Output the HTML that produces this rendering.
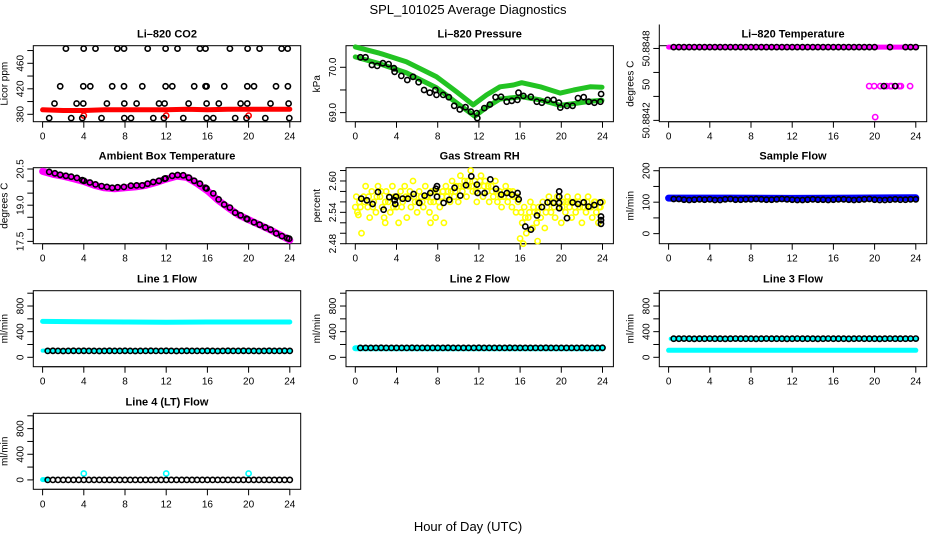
<!DOCTYPE html>
<html><head><meta charset="utf-8"><title>SPL_101025 Average Diagnostics</title>
<style>
html,body{margin:0;padding:0;background:#fff;}
svg{display:block;font-family:"Liberation Sans",Arial,sans-serif;}
</style></head>
<body>
<svg id="chart" width="936" height="540" viewBox="0 0 936 540" xmlns="http://www.w3.org/2000/svg">
<rect x="0" y="0" width="936" height="540" fill="#fff"/>
<text x="468" y="14" text-anchor="middle" font-size="13">SPL_101025  Average Diagnostics</text>
<text x="468" y="531" text-anchor="middle" font-size="13">Hour of Day (UTC)</text>
</svg>
<script>
// ---------- data ----------
const xTicks = [0,4,8,12,16,20,24];
const halfHours = [0.5,1,1.5,2,2.5,3,3.5,4,4.5,5,5.5,6,6.5,7,7.5,8,8.5,9,9.5,10,10.5,11,11.5,12,12.5,13,13.5,14,14.5,15,15.5,16,16.5,17,17.5,18,18.5,19,19.5,20,20.5,21,21.5,22,22.5,23,23.5,24];

// CO2
const co2Band = [[0,387],[2,386],[4,386],[6,387],[8,387],[10,387],[12,387],[14,388],[16,387],[18,388],[20,388],[22,388],[24,388]];
const co2RedOut = [[4,378],[12,378],[20,378]];
const co2Black = [[2.26,483],[3.99,483],[5.14,483],[7.25,483],[7.9,483],[10.2,483],[11.94,483],[13.1,483],[15.27,483],[15.82,483],[18.18,483],[19.9,483],[21.07,483],[23.2,483],[23.8,483],
[1.71,424],[3.95,424],[4.63,424],[6.76,424],[7.9,424],[9.68,424],[11.94,424],[12.59,424],[14.72,424],[15.82,424],[15.92,424],[17.64,424],[19.87,424],[20.52,424],[22.66,424],[23.82,424],
[1.16,397],[3.3,397],[3.95,397],[6.24,397],[7.93,397],[9.13,397],[11.3,397],[11.84,397],[14.17,397],[15.92,397],[17.11,397],[19.22,397],[19.87,397],[22.13,397],[23.88,397],
[0.64,374],[2.78,374],[3.85,374],[5.72,374],[7.93,374],[8.58,374],[10.75,374],[11.78,374],[13.66,374],[15.92,374],[16.57,374],[18.7,374],[19.8,374],[21.62,374],[23.95,374]];
const co2Ticks = [380,400,420,440,460,480];
const co2Labels = ['380','','420','','460',''];

// Pressure
const presUpper = [[0,70.45],[2.35,70.31],[4.95,70.12],[7.88,69.79],[9.83,69.46],[11.45,69.17],[12.75,69.39],[14.05,69.57],[15.35,69.61],[16.16,69.66],[17.95,69.57],[19.9,69.43],[21.2,69.5],[22.8,69.57],[23.95,69.56]];
const presLower = [[0,70.23],[2.35,70.08],[4.95,69.88],[7.88,69.55],[9.83,69.22],[11.6,68.92],[12.75,69.12],[14.05,69.3],[16.16,69.35],[17.95,69.28],[19.9,69.16],[21.2,69.2],[22.8,69.25],[23.95,69.27]];
const presBlack = [[0.5,70.22],[0.99,70.22],[1.61,70.05],[2.13,70.03],[2.68,70.09],[3.23,70.07],[3.75,69.98],[3.82,69.9],[4.47,69.81],[5.05,69.72],[5.6,69.79],[6.15,69.67],[6.68,69.5],[7.23,69.44],[7.78,69.5],[7.88,69.39],[8.53,69.39],[9.08,69.34],[9.6,69.15],[10.15,69.07],[10.7,69.12],[11.22,69.02],[11.78,68.99],[11.84,68.88],[12.52,69.1],[13.07,69.18],[13.62,69.34],[14.15,69.35],[14.7,69.24],[15.19,69.26],[15.74,69.28],[15.84,69.44],[16.32,69.37],[17.04,69.35],[17.62,69.24],[18.11,69.22],[18.67,69.28],[19.25,69.28],[19.77,69.22],[19.9,69.11],[20.55,69.15],[21.1,69.15],[21.62,69.32],[22.17,69.34],[22.66,69.24],[23.21,69.22],[23.8,69.24],[23.86,69.41]];
const presTicks = [69.0,69.5,70.0];
const presLabels = ['69.0','','70.0'];

// Li-820 Temperature
const ltBand = [[0,50.884811],[24,50.884811]];
const ltMagentaLow = [[19.48,50.884486],[19.96,50.884486],[20.55,50.884486],[21.16,50.884486],[21.51,50.884486],[21.65,50.884486],[22.39,50.884486],[22.55,50.884486],[23.45,50.884486],[20.06,50.884227]];
const ltBlackMain = [50.884811,50.884811,50.884811,50.884811,50.884811,50.884811,50.884811,50.884811,50.884811,50.884811,50.884811,50.884811,50.884811,50.884811,50.884811,50.884811,50.884811,50.884811,50.884811,50.884811,50.884811,50.884811,50.884811,50.884811,50.884811,50.884811,50.884811,50.884811,50.884811,50.884811,50.884811,50.884811,50.884811,50.884811,50.884811,50.884811,50.884811,50.884811,50.884811,50.884811,null,null,50.884811,null,null,50.884811,50.884811,50.884811];
const ltBlackLow = [[20.9,50.884486],[22.0,50.884486]];
const ltTicks = [50.8842,50.8844,50.8845,50.8846,50.8848,50.8850];
const ltLabels = ['50.8842','','50','','50.8848',''];

// Ambient box temperature
const ambBand = [[0,20.4],[1,20.28],[2,20.2],[3,20.1],[4,19.98],[5,19.83],[6,19.72],[7,19.68],[8,19.72],[9,19.76],[10,19.82],[11,19.94],[12,20.08],[13,20.2],[14,20.15],[15,19.9],[16,19.6],[17,19.22],[18,18.9],[19,18.6],[20,18.4],[21,18.2],[22,18.0],[23,17.78],[24,17.55]];
const ambBlack = [[0.64,20.38],[1.19,20.32],[1.71,20.26],[2.26,20.22],[2.78,20.18],[3.33,20.13],[3.85,20.04],[4.01,20.01],[4.59,19.94],[5.14,19.86],[5.73,19.79],[6.24,19.76],[6.76,19.72],[7.28,19.74],[7.89,19.76],[8.57,19.81],[9.13,19.82],[9.67,19.82],[10.19,19.89],[10.74,19.96],[11.29,20.01],[11.84,20.1],[11.94,20.11],[12.58,20.22],[13.11,20.25],[13.65,20.24],[14.2,20.14],[14.72,20.01],[15.27,19.89],[15.83,19.72],[15.92,19.69],[16.57,19.49],[17.09,19.24],[17.63,19.03],[18.18,18.9],[18.7,18.69],[19.22,18.58],[19.81,18.44],[19.87,18.42],[20.52,18.29],[21.07,18.19],[21.62,18.08],[22.14,17.99],[22.68,17.83],[23.23,17.72],[23.75,17.64],[23.94,17.61]];
const ambTicks = [17.5,18.0,18.5,19.0,19.5,20.0,20.5];
const ambLabels = ['17.5','','','19.0','','','20.5'];

// Gas stream RH
const rhYellow = [[0.0,2.55],[0.2,2.54],[0.4,2.56],[0.6,2.50],[0.8,2.57],[1.0,2.59],[1.2,2.55],[1.4,2.53],[1.6,2.58],[1.8,2.56],[2.0,2.54],[2.2,2.59],[2.4,2.57],[2.6,2.55],[2.8,2.53],[3.0,2.58],[3.2,2.56],[3.4,2.54],[3.6,2.59],[3.8,2.57],[4.0,2.55],[4.2,2.52],[4.4,2.58],[4.6,2.56],[4.8,2.59],[5.0,2.53],[5.2,2.57],[5.4,2.55],[5.6,2.60],[5.8,2.56],[6.0,2.54],[6.2,2.58],[6.4,2.57],[6.6,2.55],[6.8,2.59],[7.0,2.57],[7.2,2.54],[7.4,2.58],[7.6,2.56],[7.8,2.53],[8.0,2.58],[8.2,2.55],[8.4,2.57],[8.6,2.52],[8.8,2.59],[9.0,2.58],[9.2,2.56],[9.4,2.60],[9.6,2.57],[9.8,2.59],[10.0,2.56],[10.2,2.61],[10.4,2.58],[10.6,2.60],[10.8,2.57],[11.0,2.59],[11.2,2.62],[11.4,2.58],[11.6,2.60],[11.8,2.56],[12.0,2.59],[12.2,2.61],[12.4,2.57],[12.6,2.60],[12.8,2.58],[13.0,2.56],[13.2,2.59],[13.4,2.57],[13.6,2.60],[13.8,2.56],[14.0,2.58],[14.2,2.55],[14.4,2.57],[14.6,2.59],[14.8,2.56],[15.0,2.58],[15.2,2.55],[15.4,2.57],[15.6,2.54],[15.8,2.56],[16.0,2.49],[16.2,2.52],[16.4,2.55],[16.6,2.50],[16.8,2.53],[17.0,2.56],[17.2,2.51],[17.4,2.54],[17.6,2.52],[17.8,2.55],[18.0,2.53],[18.2,2.56],[18.4,2.51],[18.6,2.55],[18.8,2.57],[19.0,2.54],[19.2,2.56],[19.4,2.53],[19.6,2.57],[19.8,2.55],[20.0,2.52],[20.2,2.56],[20.4,2.54],[20.6,2.57],[20.8,2.55],[21.0,2.53],[21.2,2.56],[21.4,2.54],[21.6,2.57],[21.8,2.55],[22.0,2.52],[22.2,2.56],[22.4,2.54],[22.6,2.57],[22.8,2.55],[23.0,2.53],[23.2,2.56],[23.4,2.54],[23.6,2.52],[23.8,2.55],[24.0,2.56],
[0.1,2.57],[0.5,2.55],[0.9,2.56],[1.3,2.57],[1.7,2.55],[2.1,2.57],[2.5,2.58],[2.9,2.56],[3.3,2.57],[3.7,2.55],[4.1,2.57],[4.5,2.55],[4.9,2.57],[5.3,2.58],[5.7,2.57],[6.1,2.56],[6.5,2.56],[6.9,2.57],[7.3,2.56],[7.7,2.58],[8.1,2.56],[8.5,2.58],[8.9,2.57],[9.3,2.58],[9.7,2.58],[10.1,2.59],[10.5,2.59],[10.9,2.60],[11.3,2.59],[11.7,2.58],[12.1,2.60],[12.5,2.59],[12.9,2.59],[13.3,2.58],[13.7,2.58],[14.1,2.57],[14.5,2.58],[14.9,2.57],[15.3,2.58],[15.7,2.57],[16.1,2.54],[16.5,2.53],[16.9,2.54],[17.3,2.55],[17.7,2.54],[18.1,2.55],[18.5,2.54],[18.9,2.56],[19.3,2.55],[19.7,2.56],[20.1,2.55],[20.5,2.56],[20.9,2.56],[21.3,2.55],[21.7,2.56],[22.1,2.55],[22.5,2.56],[22.9,2.55],[23.3,2.56],[23.7,2.55],[16.3,2.48],[17.7,2.485],[7.3,2.52],[2.9,2.52],[0.3,2.535]];
const rhBlack = [[0.58,2.566],[1.13,2.563],[1.68,2.556],[2.2,2.579],[2.75,2.545],[3.3,2.569],[3.82,2.563],[3.88,2.556],[3.95,2.57],[4.6,2.566],[5.11,2.566],[5.66,2.575],[6.21,2.558],[6.73,2.572],[7.28,2.577],[7.83,2.585],[7.93,2.59],[7.93,2.57],[8.57,2.558],[9.13,2.564],[9.64,2.587],[10.19,2.572],[10.75,2.592],[11.26,2.609],[11.81,2.593],[11.87,2.577],[12.55,2.577],[13.11,2.603],[13.66,2.585],[14.17,2.574],[14.72,2.577],[15.21,2.574],[15.76,2.577],[15.86,2.565],[16.5,2.513],[17.05,2.507],[17.64,2.534],[18.12,2.55],[18.67,2.559],[19.25,2.558],[19.8,2.58],[19.8,2.57],[19.8,2.558],[19.8,2.548],[20.55,2.529],[21.1,2.559],[21.62,2.556],[22.17,2.559],[22.65,2.551],[23.2,2.554],[23.79,2.559],[23.85,2.532],[23.85,2.525],[23.85,2.518]];
const rhTicks = [2.48,2.50,2.52,2.54,2.56,2.58,2.60,2.62];
const rhLabels = ['2.48','','','2.54','','','2.60',''];

// Sample flow
const sfBand = [[0,113],[6,113],[12,112],[18,113],[24,114]];
const sfBlack = [110,110,108,107,108,109,108,109,107,107,109,110,108,108,109,109,110,109,108,108,109,110,109,108,107,107,108,109,108,108,107,108,109,109,108,107,108,109,110,108,107,107,108,109,108,108,109,109];
const sfTicks = [0,50,100,150,200];
const sfLabels = ['0','','100','','200'];

// Line flows
const flowTicks = [0,200,400,600,800,1000];
const flowLabels = ['0','','400','','800',''];
const l1Upper = [[0,560],[4,555],[8,550],[12,548],[16,550],[20,550],[24,550]];
const l1Lower = [[0,105],[24,102]];
const l1Black = [100,101,100,99,100,101,100,101,100,100,99,100,101,100,100,101,100,99,100,100,101,100,100,101,100,99,100,101,100,100,100,101,100,99,100,101,100,100,101,100,100,99,100,101,100,100,101,100];
const l2Band = [[0,140],[24,140]];
const l2Black = [147,147,146,147,148,147,147,146,147,147,148,147,147,146,147,147,147,148,147,146,147,147,147,148,147,147,146,147,147,148,147,147,147,146,147,147,148,147,147,147,146,147,147,148,147,147,147,148];
const l3Upper = [[0.2,290],[24,286]];
const l3Lower = [[0,110],[24,110]];
const l3Black = [290,290,291,290,289,290,290,291,290,290,289,290,291,290,290,290,289,290,291,290,290,290,289,290,291,290,290,290,289,290,291,290,290,290,289,290,291,290,290,290,289,290,291,290,290,290,292,292];
const l4Band = [[0,5],[0.4,5]];
const l4Cyan = [[4,100],[12,100],[20,100]];
const l4Black = [0,0,0,0,0,0,0,0,0,0,0,0,0,0,0,0,0,0,0,0,0,0,0,0,0,0,0,0,0,0,0,0,0,0,0,0,0,0,0,0,0,0,0,0,0,0,0,0];

// ---------- drawing ----------
const NS = 'http://www.w3.org/2000/svg';
const svg = document.getElementById('chart');
const W = 267.4, H = 76;
const cols = [33.3, 346, 659.3];
const rows = [45.7, 167.7, 290.7, 413.3];

function mk(tag, attrs, parent){
  const e = document.createElementNS(NS, tag);
  for (const k in attrs) e.setAttribute(k, attrs[k]);
  (parent||svg).appendChild(e);
  return e;
}
function xp(p,h){ return p.l + 9.3 + h*10.3; }
function yp(p,v){ return p.t + H - (v-p.ymin)/(p.ymax-p.ymin)*H; }

function panel(name, title, ylab, col, row, ymin, ymax, ticks, labels){
  const p = {l:cols[col], t:rows[row], ymin, ymax};
  const g = mk('g', {});
  
  
  p.g = g;
  const tt = mk('text', {x:p.l+W/2, y:p.t-8, 'text-anchor':'middle', 'font-size':11, 'font-weight':'bold'}, g);
  tt.textContent = title;
  
  
  const yl = mk('text', {x:p.l-26, y:p.t+H/2, 'text-anchor':'middle', 'font-size':10, transform:`rotate(-90 ${p.l-26} ${p.t+H/2})`}, g);
  yl.textContent = ylab;
  
  
  const xa = mk('g', {}, g);
  
  
  const yb = p.t + H;
  mk('line', {x1:xp(p,xTicks[0]), x2:xp(p,xTicks[xTicks.length-1]), y1:yb, y2:yb, stroke:'#000'}, xa);
  xTicks.forEach(t=>{
    mk('line', {x1:xp(p,t), x2:xp(p,t), y1:yb, y2:yb+6, stroke:'#000'}, xa);
    const tx = mk('text', {x:xp(p,t), y:yb+18, 'text-anchor':'middle', 'font-size':10}, xa);
    tx.textContent = String(t);
  });
  const ya = mk('g', {}, g);
  
  
  mk('line', {x1:p.l, x2:p.l, y1:yp(p,ticks[0]), y2:yp(p,ticks[ticks.length-1]), stroke:'#000'}, ya);
  ticks.forEach((t,i)=>{
    const y = yp(p,t);
    if (y < p.t-0.5 || y > p.t+H+0.5) return;
    if (!(name === 'li820-temp' && t === 50.8845))
      mk('line', {x1:p.l-6, x2:p.l, y1:y, y2:y, stroke:'#000'}, ya);
    if (labels[i]) {
      const tx = mk('text', {x:p.l-10, y:y, 'text-anchor':'middle', 'font-size':10, transform:`rotate(-90 ${p.l-10} ${y})`}, ya);
      tx.textContent = labels[i];
    }
  });
  const box = mk('rect', {x:p.l, y:p.t, width:W, height:H, fill:'none', stroke:'#000'}, g);
  
  
  return p;
}
function band(p, pts, color, width, name){
  const d = pts.map((q,i)=>(i?'L':'M')+xp(p,q[0]).toFixed(1)+' '+yp(p,q[1]).toFixed(1)).join(' ');
  const e = mk('path', {d, fill:'none', stroke:color, 'stroke-width':width, 'stroke-linecap':'round', 'stroke-linejoin':'round'}, p.g);
  
  
}
function pts(p, list, color, name, r){
  const g = mk('g', {}, p.g);
  
  
  list.forEach(q=>{
    if (q[1] === null) return;
    mk('circle', {cx:xp(p,q[0]).toFixed(1), cy:yp(p,q[1]).toFixed(1), r:r||2.6, fill:'none', stroke:color, 'stroke-width':1.6}, g);
  });
}
function zipH(vals){ return vals.map((v,i)=>[halfHours[i], v]); }

let p = panel('co2', 'Li\u2013820 CO2', 'Licor ppm', 0, 0, 368.4, 487.6, co2Ticks, co2Labels);
band(p, co2Band, '#ff0000', 5, 'co2-raw-series');
pts(p, co2RedOut, '#ff0000', 'co2-raw-outliers');
pts(p, co2Black, '#000', 'co2-average-points');

p = panel('pressure', 'Li\u2013820 Pressure', 'kPa', 1, 0, 68.80, 70.476, presTicks, presLabels);
band(p, presUpper, '#22c322', 5, 'pressure-upper-series');
band(p, presLower, '#22c322', 5, 'pressure-lower-series');
pts(p, presBlack, '#000', 'pressure-average-points');

p = panel('li820-temp', 'Li\u2013820 Temperature', 'degrees C', 2, 0, 50.884189, 50.884823, ltTicks, ltLabels);
band(p, ltBand, '#ff00ff', 5, 'li820-temp-raw-series');
pts(p, ltMagentaLow, '#ff00ff', 'li820-temp-raw-low-points');
pts(p, zipH(ltBlackMain), '#000', 'li820-temp-average-points');
pts(p, ltBlackLow, '#000', 'li820-temp-average-low-points');

p = panel('ambient-temp', 'Ambient Box Temperature', 'degrees C', 0, 1, 17.404, 20.554, ambTicks, ambLabels);
band(p, ambBand, '#ff00ff', 7, 'ambient-temp-raw-series');
pts(p, ambBlack, '#000', 'ambient-temp-average-points');

p = panel('rh', 'Gas Stream RH', 'percent', 1, 1, 2.48, 2.6254, rhTicks, rhLabels);
pts(p, rhYellow, '#ffff00', 'rh-raw-points');
pts(p, rhBlack, '#000', 'rh-average-points');

p = panel('sample-flow', 'Sample Flow', 'ml/min', 2, 1, -32, 209.6, sfTicks, sfLabels);
band(p, sfBand, '#0000ff', 7, 'sample-flow-raw-series');
pts(p, zipH(sfBlack), '#000', 'sample-flow-average-points');

p = panel('line1-flow', 'Line 1 Flow', 'ml/min', 0, 2, -146.6, 1039, flowTicks, flowLabels);
band(p, l1Upper, '#00ffff', 5, 'line1-flow-upper-series');
band(p, l1Lower, '#00ffff', 4, 'line1-flow-lower-series');
pts(p, zipH(l1Black), '#000', 'line1-flow-average-points');

p = panel('line2-flow', 'Line 2 Flow', 'ml/min', 1, 2, -146.6, 1039, flowTicks, flowLabels);
band(p, l2Band, '#00ffff', 6, 'line2-flow-raw-series');
pts(p, zipH(l2Black), '#000', 'line2-flow-average-points');

p = panel('line3-flow', 'Line 3 Flow', 'ml/min', 2, 2, -146.6, 1039, flowTicks, flowLabels);
band(p, l3Upper, '#00ffff', 4, 'line3-flow-upper-series');
band(p, l3Lower, '#00ffff', 5, 'line3-flow-lower-series');
pts(p, zipH(l3Black), '#000', 'line3-flow-average-points');

p = panel('line4-flow', 'Line 4 (LT) Flow', 'ml/min', 0, 3, -146.6, 1039, flowTicks, flowLabels);
band(p, l4Band, '#00ffff', 5, 'line4-flow-raw-series');
pts(p, l4Cyan, '#00ffff', 'line4-flow-raw-outliers');
pts(p, zipH(l4Black), '#000', 'line4-flow-average-points');
</script>
</body></html>
